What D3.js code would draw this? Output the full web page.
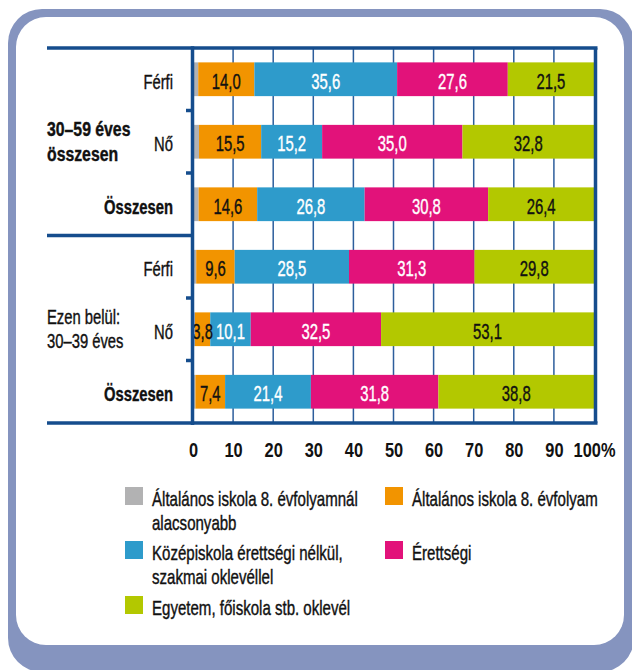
<!DOCTYPE html>
<html>
<head>
<meta charset="utf-8">
<script src="https://cdn.jsdelivr.net/npm/d3@7"></script>
<style>
  html, body { margin: 0; padding: 0; background: #fff; }
  svg { display: block; }
  text { font-family: "Liberation Sans", Arial, sans-serif; }
</style>
</head>
<body>
<svg id="chart" width="632" height="670"></svg>
<script>
// ---- data ----
const rowLabels = ["Férfi", "Nő", "Összesen", "Férfi", "Nő", "Összesen"];
const rowBold = [false, false, true, false, false, true];
const groupLabels = [["30–59 éves", "összesen"], ["Ezen belül:", "30–39 éves"]];
const groupBold = [true, false];
const seriesNames = [
  "Általános iskola 8. évfolyamnál alacsonyabb",
  "Általános iskola 8. évfolyam",
  "Középiskola érettségi nélkül, szakmai oklevéllel",
  "Érettségi",
  "Egyetem, főiskola stb. oklevél"
];
const legendLines = [
  ["Általános iskola 8. évfolyamnál", "alacsonyabb"],
  ["Általános iskola 8. évfolyam"],
  ["Középiskola érettségi nélkül,", "szakmai oklevéllel"],
  ["Érettségi"],
  ["Egyetem, főiskola stb. oklevél"]
];
const below8     = [1.3, 1.5, 1.4, 0.8, 0.5, 0.6];
const grade8     = [14.0, 15.5, 14.6, 9.6, 3.8, 7.4];
const vocational = [35.6, 15.2, 26.8, 28.5, 10.1, 21.4];
const matura     = [27.6, 35.0, 30.8, 31.3, 32.5, 31.8];
const university = [21.5, 32.8, 26.4, 29.8, 53.1, 38.8];
const xTicks = [0, 10, 20, 30, 40, 50, 60, 70, 80, 90, 100];

// ---- styles ----
const colors = ["#b2b2b3", "#f29400", "#2e9bcb", "#e2127a", "#b3c800"];
const labelColors = [null, "#111", "#fff", "#fff", "#111"];
const navy = "#154d8d";
const gridCol = "#2d5e9c";
const frameCol = "#8594bf";
const ink = "#111";

const series = [below8, grade8, vocational, matura, university];
const rows = rowLabels.map((l, i) => {
  const obj = { i };
  seriesNames.forEach((s, k) => obj[s] = series[k][i]);
  return obj;
});
const stacked = d3.stack().keys(seriesNames)(rows);

const svg = d3.select("#chart");

// frame
svg.append("rect").attr("x", 8).attr("y", 9).attr("width", 626).attr("height", 663)
  .attr("rx", 34).attr("fill", frameCol);
svg.append("rect").attr("x", 16).attr("y", 17).attr("width", 608).attr("height", 628)
  .attr("rx", 30).attr("fill", "#fff");

const x0 = 193, x1 = 594, yTop = 48, yBot = 423, leftX = 47;
const x = d3.scaleLinear().domain([0, 100]).range([x0, x1]);
const y = d3.scaleBand().domain(d3.range(6)).range([yTop, yBot]).paddingInner(0.46).paddingOuter(0.23);

const place = (px, py, s) => `translate(${px},${py}) scale(${s},1)`;
const medium = (sel, col) => sel.attr("stroke", col).attr("stroke-width", 0.4);

// grid
svg.append("g").selectAll("line").data(xTicks.filter(t => t > 0 && t < 100)).join("line")
  .attr("x1", d => x(d)).attr("x2", d => x(d)).attr("y1", yTop).attr("y2", yBot)
  .attr("stroke", gridCol).attr("stroke-width", 1.5);

// bars
const layers = svg.append("g").selectAll("g").data(stacked).join("g")
  .attr("fill", (d, k) => colors[k]);
layers.selectAll("rect").data(d => d).join("rect")
  .attr("x", d => x(d[0])).attr("width", d => x(d[1]) - x(d[0]))
  .attr("y", d => y(d.data.i)).attr("height", y.bandwidth());

// value labels
stacked.forEach((layer, k) => {
  if (!labelColors[k]) return;
  svg.append("g").selectAll("text").data(layer).join("text")
    .attr("transform", d => place((x(d[0]) + x(d[1])) / 2, y(d.data.i) + y.bandwidth() / 2 + 9.5, 0.66))
    .attr("text-anchor", "middle")
    .attr("font-size", 22.5)
    .attr("fill", labelColors[k])
    .call(medium, labelColors[k])
    .text(d => d3.format(".1f")(d.data[seriesNames[k]]).replace(".", ","));
});

// frame lines
const step = y.step();
const lines = svg.append("g").attr("stroke", navy).attr("stroke-width", 3.5).attr("fill", "none");
lines.append("line").attr("x1", leftX).attr("x2", x1 + 3.5).attr("y1", yTop).attr("y2", yTop);
lines.append("line").attr("x1", leftX).attr("x2", x1 + 3.5).attr("y1", yBot).attr("y2", yBot);
lines.append("line").attr("x1", leftX).attr("x2", x0).attr("y1", yTop + step * 3).attr("y2", yTop + step * 3);
lines.append("line").attr("x1", x0 - 0.5).attr("x2", x0 - 0.5).attr("y1", yTop - 1.7).attr("y2", yBot + 2);
lines.append("line").attr("x1", x1 + 1.5).attr("x2", x1 + 1.5).attr("y1", yTop).attr("y2", yBot);
lines.selectAll(".tk").data([1, 2, 4, 5]).join("line")
  .attr("x1", x0 - 7).attr("x2", x0).attr("y1", d => yTop + step * d).attr("y2", d => yTop + step * d);

// row labels
svg.append("g").selectAll("text").data(rowLabels).join("text")
  .attr("transform", (d, i) => place(173, y(i) + y.bandwidth() / 2 + 9.5, 0.74))
  .attr("text-anchor", "end").attr("font-size", 20)
  .attr("font-weight", (d, i) => rowBold[i] ? "bold" : "normal")
  .attr("fill", ink).call(medium, ink).text(d => d);

// group labels
groupLabels.forEach((g, gi) => {
  const c = yTop + step * (gi * 3 + 1.5);
  const t = svg.append("text").attr("transform", place(leftX, c - 5.5, groupBold[gi] ? 0.79 : 0.74))
    .attr("font-size", 20)
    .attr("font-weight", groupBold[gi] ? "bold" : "normal").attr("fill", ink).call(medium, ink);
  g.forEach((line, li) => t.append("tspan").attr("x", 0).attr("y", li * 24.5).text(line));
});

// x axis labels
const axis = d3.axisBottom(x).tickValues(xTicks).tickSize(0).tickPadding(0)
  .tickFormat(d => d === 100 ? "100%" : d);
const ag = svg.append("g").attr("transform", `translate(0,${yBot})`).call(axis);
ag.select(".domain").remove();
ag.selectAll("text").attr("y", 34).attr("dy", null).attr("font-size", 21).attr("font-weight", "bold")
  .attr("transform", "scale(0.78,1)").attr("x", 0)
  .attr("fill", ink).style("font-family", "'Liberation Sans', Arial, sans-serif");

// legend
const legendPos = [[125, 487], [385, 487], [125, 541], [385, 541], [125, 596]];
const lg = svg.append("g").selectAll("g").data(seriesNames).join("g")
  .attr("transform", (d, k) => `translate(${legendPos[k][0]},${legendPos[k][1]})`);
lg.append("rect").attr("width", 18).attr("height", 18).attr("fill", (d, k) => colors[k]);
lg.each(function (d, k) {
  const t = d3.select(this).append("text").attr("transform", place(27, 19, 0.753))
    .attr("font-size", 20).attr("fill", ink).call(medium, ink);
  legendLines[k].forEach((line, li) => t.append("tspan").attr("x", 0).attr("y", li * 24.5).text(line));
});
</script>
</body>
</html>
